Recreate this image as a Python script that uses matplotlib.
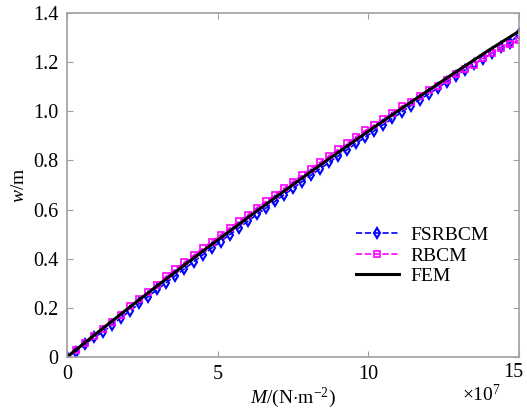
import numpy as np
import matplotlib
matplotlib.use('Agg')
import matplotlib.pyplot as plt
import matplotlib.transforms as mtransforms
from matplotlib.ticker import FuncFormatter

plt.rcParams['font.family'] = 'Liberation Serif'
plt.rcParams['mathtext.fontset'] = 'custom'
plt.rcParams['mathtext.rm'] = 'Liberation Serif'
plt.rcParams['mathtext.it'] = 'Liberation Serif:italic'

# load M (x1e7 N/m^2), sampled every 0.3
M = np.linspace(0, 15, 51)

w_fsrbcm = [0.000, 0.021, 0.051, 0.080, 0.102, 0.131, 0.160, 0.189, 0.218, 0.246,
            0.275, 0.303, 0.331, 0.359, 0.387, 0.415, 0.443, 0.470, 0.498, 0.525,
            0.552, 0.580, 0.606, 0.633, 0.660, 0.687, 0.713, 0.740, 0.766, 0.792,
            0.818, 0.844, 0.870, 0.895, 0.921, 0.946, 0.971, 0.997, 1.022, 1.047,
            1.071, 1.095, 1.120, 1.144, 1.168, 1.192, 1.213, 1.237, 1.260, 1.278,
            1.315]

w_rbcm = [0.000, 0.027, 0.056, 0.085, 0.114, 0.143, 0.172, 0.207, 0.236, 0.264,
          0.293, 0.330, 0.358, 0.386, 0.414, 0.442, 0.470, 0.497, 0.525, 0.552,
          0.579, 0.607, 0.633, 0.660, 0.687, 0.714, 0.740, 0.767, 0.793, 0.819,
          0.845, 0.871, 0.897, 0.922, 0.944, 0.969, 0.994, 1.020, 1.037, 1.062,
          1.086, 1.101, 1.126, 1.150, 1.174, 1.190, 1.215, 1.239, 1.258, 1.272,
          1.290]

M_fem = np.arange(0, 16)
w_fem = [0.000, 0.098, 0.195, 0.290, 0.384, 0.476, 0.567, 0.657, 0.746, 0.833,
         0.919, 1.003, 1.086, 1.168, 1.249, 1.326]

fig = plt.figure(figsize=(5.27, 4.2), dpi=100)
ax = fig.add_axes([0.127, 0.15, 0.858, 0.819])

ax.plot(M, w_fsrbcm, color='#0000ff', linestyle='--', marker='d', markersize=5.5,
        markerfacecolor='none', markeredgewidth=1.5, linewidth=1.2, label='FSRBCM')
ax.plot(M, w_rbcm, color='#ff00ff', linestyle='--', marker='s', markersize=5,
        markerfacecolor='none', markeredgewidth=1.2, linewidth=1.2, label='RBCM')
ax.plot(M_fem, w_fem, color='black', linewidth=2.2, label='FEM')

ax.set_xlim(0, 15)
ax.set_ylim(0, 1.4)
ax.set_xticks([0, 5, 10, 15])
ax.set_yticks(np.arange(0, 1.41, 0.2))
ax.yaxis.set_major_formatter(FuncFormatter(lambda v, p: '0' if abs(v) < 1e-9 else '%.1f' % v))

for s in ax.spines.values():
    s.set_color('#a0a0a0')
    s.set_linewidth(1.2)
ax.tick_params(direction='in', colors='#a0a0a0', labelcolor='black', labelsize=14.5,
               top=True, right=True, length=4, pad=6)

# last x label sits right at the figure edge, nudge it in a little
lbl15 = ax.get_xticklabels()[-1]
lbl15.set_transform(lbl15.get_transform() +
                    mtransforms.ScaledTranslation(-4 / 72, 2 / 72, fig.dpi_scale_trans))

ax.set_xlabel(r'$\it{M}$/(N$\cdot$m$^{-2}$)', fontsize=14, labelpad=1)
ax.set_ylabel(r'$\it{w}$/m', fontsize=14, labelpad=4)
ax.text(0.96, -0.11, r'$\times$10$^{7}$', transform=ax.transAxes, fontsize=14,
        ha='right', va='center')

ax.legend(loc='upper left', bbox_to_anchor=(0.6, 0.43), frameon=False, fontsize=14,
          handlelength=2.2, labelspacing=0.15, handletextpad=0.6)

fig.savefig('out.png', dpi=100)
